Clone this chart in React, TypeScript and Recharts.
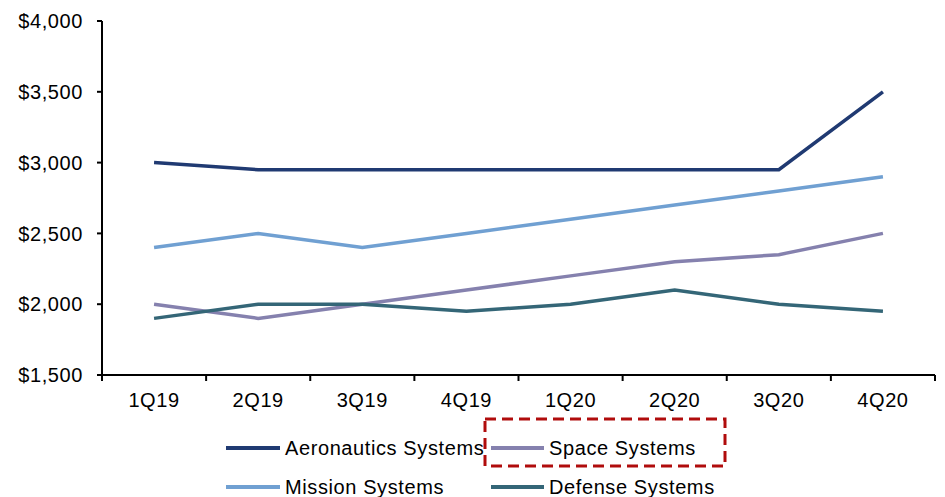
import { Line, LineChart, XAxis, YAxis } from 'recharts'

const quarters = ['1Q19', '2Q19', '3Q19', '4Q19', '1Q20', '2Q20', '3Q20', '4Q20']
const aeronautics = [3000, 2950, 2950, 2950, 2950, 2950, 2950, 3500]
const mission = [2400, 2500, 2400, 2500, 2600, 2700, 2800, 2900]
const space = [2000, 1900, 2000, 2100, 2200, 2300, 2350, 2500]
const defense = [1900, 2000, 2000, 1950, 2000, 2100, 2000, 1950]
const yTicks = [1500, 2000, 2500, 3000, 3500, 4000]

const series = [
  { key: 'aeronautics', name: 'Aeronautics Systems', color: '#203a72' },
  { key: 'space', name: 'Space Systems', color: '#8581ae' },
  { key: 'mission', name: 'Mission Systems', color: '#70a0d2' },
  { key: 'defense', name: 'Defense Systems', color: '#346677' },
]

const data = quarters.map((q, i) => ({
  q,
  aeronautics: aeronautics[i],
  mission: mission[i],
  space: space[i],
  defense: defense[i],
}))

const W = 945
const H = 497
const PLOT_LEFT = 102
const PLOT_RIGHT = 935
const STEP = (PLOT_RIGHT - PLOT_LEFT) / quarters.length
const FONT = '"Liberation Sans", Arial, sans-serif'

function XTick(props: any) {
  const { x, y, payload, index } = props
  const half = STEP / 2
  return (
    <g>
      <line x1={x - half} x2={x - half} y1={y} y2={y + 6} stroke="#000" strokeWidth={2} />
      {index === quarters.length - 1 && (
        <line x1={x + half} x2={x + half} y1={y} y2={y + 6} stroke="#000" strokeWidth={2} />
      )}
      <text x={x} y={y + 32} textAnchor="middle" fontSize={20} letterSpacing={0.6} fontFamily={FONT} fill="#000">
        {payload.value}
      </text>
    </g>
  )
}

function LegendBox() {
  const rows = [
    [series[0], series[1]],
    [series[2], series[3]],
  ]
  const cols = [
    { x1: 226, x2: 280, tx: 285 },
    { x1: 491, x2: 544, tx: 549 },
  ]
  const ys = [448, 487]
  return (
    <svg width={W} height={H} style={{ position: 'absolute', left: 0, top: 0, pointerEvents: 'none' }}>
      {rows.map((row, r) =>
        row.map((s, c) => (
          <g key={s.key}>
            <line x1={cols[c].x1} x2={cols[c].x2} y1={ys[r]} y2={ys[r]} stroke={s.color} strokeWidth={4} />
            <text x={cols[c].tx} y={ys[r] + 7} fontSize={20} letterSpacing={0.6} fontFamily={FONT} fill="#000">
              {s.name}
            </text>
          </g>
        ))
      )}
      <rect x={485} y={419} width={240} height={47} fill="none" stroke="#b00c0c" strokeWidth={3} strokeDasharray="11 6" />
    </svg>
  )
}

export default function App() {
  return (
    <div style={{ position: 'absolute', left: 0, top: 0, width: W, height: H, background: '#fff' }}>
      <LineChart
        width={W}
        height={H}
        data={data}
        margin={{ top: 21, right: W - PLOT_RIGHT, bottom: 0, left: 0 }}
      >
        <XAxis
          dataKey="q"
          padding={{ left: STEP / 2, right: STEP / 2 }}
          axisLine={{ stroke: '#000', strokeWidth: 2 }}
          tickLine={false}
          tickSize={0}
          tickMargin={0}
          interval={0}
          height={122}
          tick={<XTick />}
        />
        <YAxis
          domain={[1500, 4000]}
          ticks={yTicks}
          width={PLOT_LEFT}
          axisLine={{ stroke: '#000', strokeWidth: 2 }}
          tickLine={{ stroke: '#000', strokeWidth: 2 }}
          tickSize={5}
          tickMargin={14}
          tick={{ fontSize: 20, fontFamily: FONT, fill: '#000', letterSpacing: 0.6 }}
          tickFormatter={(v: number) => `$${v.toLocaleString('en-US')}`}
        />
        {series.map((s) => (
          <Line
            key={s.key}
            dataKey={s.key}
            name={s.name}
            stroke={s.color}
            strokeWidth={3.5}
            dot={false}
            type="linear"
            isAnimationActive={false}
          />
        ))}
      </LineChart>
      <LegendBox />
    </div>
  )
}
